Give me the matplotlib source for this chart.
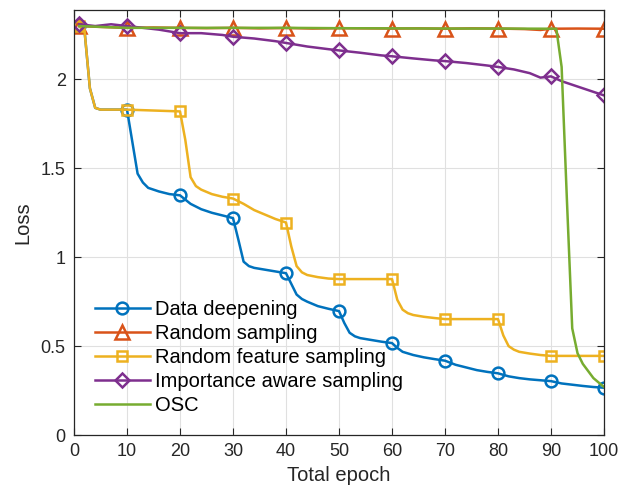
import matplotlib
matplotlib.use("Agg")
import matplotlib.pyplot as plt

# ---- data (loss vs total epoch) ----
dd_epoch = [1, 2, 3, 4, 5, 10, 11, 12, 13, 14, 16, 18, 20, 22, 24, 26, 28, 30,
            31, 32, 33, 34, 36, 38, 40, 41, 42, 43, 44, 46, 48, 50,
            51, 52, 53, 54, 56, 58, 60, 61, 62, 64, 66, 68, 70,
            72, 74, 76, 78, 80, 82, 84, 86, 88, 90, 92, 94, 96, 98, 100]
dd_loss = [2.30, 2.27, 1.95, 1.84, 1.83, 1.83, 1.65, 1.47, 1.42, 1.39, 1.37, 1.355, 1.348,
           1.30, 1.27, 1.25, 1.235, 1.22,
           1.10, 0.975, 0.95, 0.94, 0.93, 0.92, 0.91, 0.85, 0.79, 0.765, 0.75, 0.725, 0.71, 0.697,
           0.63, 0.575, 0.555, 0.545, 0.535, 0.525, 0.517, 0.49, 0.468, 0.45, 0.437, 0.427, 0.418,
           0.395, 0.38, 0.365, 0.355, 0.347, 0.33, 0.32, 0.313, 0.308, 0.303,
           0.29, 0.283, 0.276, 0.27, 0.266]

rs_epoch = [1, 5, 10, 15, 20, 25, 30, 35, 40, 45, 50, 55, 60, 65, 70, 75, 80, 85, 88, 90, 95, 100]
rs_loss = [2.30, 2.295, 2.29, 2.292, 2.29, 2.288, 2.29, 2.287, 2.289, 2.286, 2.288, 2.287,
           2.286, 2.287, 2.285, 2.287, 2.286, 2.283, 2.278, 2.285, 2.286, 2.285]

rfs_epoch = [1, 2, 3, 4, 5, 10, 20, 21, 22, 23, 24, 26, 28, 30, 32, 34, 36, 38, 40,
             41, 42, 43, 44, 46, 48, 50, 60, 61, 62, 63, 64, 66, 68, 70, 80,
             81, 82, 83, 84, 86, 88, 90, 100]
rfs_loss = [2.30, 2.27, 1.95, 1.84, 1.83, 1.83, 1.82, 1.66, 1.45, 1.40, 1.38, 1.355, 1.34, 1.33,
            1.30, 1.265, 1.24, 1.215, 1.195,
            1.06, 0.95, 0.915, 0.90, 0.888, 0.88, 0.877, 0.877, 0.76, 0.705, 0.685, 0.675, 0.665,
            0.658, 0.652, 0.652, 0.56, 0.50, 0.48, 0.468, 0.458, 0.45, 0.445, 0.445]

ias_epoch = [1, 4, 7, 10, 13, 16, 20, 24, 28, 30, 34, 38, 40, 44, 48, 50, 54, 58, 60,
             64, 68, 70, 74, 78, 80, 83, 86, 88, 90, 92, 96, 100]
ias_loss = [2.31, 2.30, 2.31, 2.30, 2.29, 2.28, 2.26, 2.26, 2.25, 2.24, 2.23, 2.215, 2.205,
            2.185, 2.17, 2.163, 2.15, 2.135, 2.13, 2.118, 2.107, 2.103, 2.092, 2.078, 2.07,
            2.056, 2.035, 2.01, 2.017, 1.99, 1.95, 1.91]

osc_epoch = [1, 10, 20, 30, 40, 50, 60, 70, 80, 90, 91, 92, 93, 94, 95, 96, 97, 98, 99, 100]
osc_loss = [2.30, 2.29, 2.29, 2.29, 2.29, 2.288, 2.287, 2.286, 2.286, 2.285, 2.285, 2.07, 1.32,
            0.60, 0.46, 0.40, 0.36, 0.32, 0.295, 0.27]

x_ticks = [0, 10, 20, 30, 40, 50, 60, 70, 80, 90, 100]
y_ticks = [0, 0.5, 1, 1.5, 2]
y_tick_labels = ["0", "0.5", "1", "1.5", "2"]

plt.rcParams["font.family"] = ["Liberation Sans", "DejaVu Sans"]
dark = "#262626"


def marker_idx(epochs):
    # markers sit at epoch 1 and every tenth epoch
    return [i for i, e in enumerate(epochs) if e == 1 or e % 10 == 0]


fig = plt.figure(figsize=(6.26, 4.93), dpi=100)
ax = fig.add_axes([0.1182, 0.1176, 0.8467, 0.862])

lw = 1.8
mew = 1.8
ax.plot(dd_epoch, dd_loss, color="#0072BD", lw=lw, marker="o", markersize=8.5,
        markerfacecolor="none", markeredgewidth=mew, markevery=marker_idx(dd_epoch),
        label="Data deepening")
ax.plot(rs_epoch, rs_loss, color="#D95319", lw=lw, marker="^", markersize=9.5,
        markerfacecolor="none", markeredgewidth=mew, markevery=marker_idx(rs_epoch),
        label="Random sampling")
ax.plot(rfs_epoch, rfs_loss, color="#EDB120", lw=lw, marker="s", markersize=7,
        markerfacecolor="none", markeredgewidth=mew, markevery=marker_idx(rfs_epoch),
        label="Random feature sampling")
ax.plot(ias_epoch, ias_loss, color="#7E2F8E", lw=lw, marker="D", markersize=7.5,
        markerfacecolor="none", markeredgewidth=mew, markevery=marker_idx(ias_epoch),
        label="Importance aware sampling")
ax.plot(osc_epoch, osc_loss, color="#77AC30", lw=lw, label="OSC")

ax.set_xlim(0, 100)
ax.set_ylim(0, 2.39)
ax.set_xticks(x_ticks)
ax.set_yticks(y_ticks)
ax.set_yticklabels(y_tick_labels)
ax.tick_params(direction="in", length=5, width=0.8, colors=dark, labelsize=13,
               top=True, right=True, pad=6)
ax.grid(True, color="#e0e0e0", lw=0.8)
ax.set_axisbelow(True)
for s in ax.spines.values():
    s.set_color(dark)
    s.set_linewidth(0.9)

ax.set_xlabel("Total epoch", fontsize=14.5, color=dark, labelpad=4)
ax.set_ylabel("Loss", fontsize=14.5, color=dark, labelpad=6)

ax.legend(loc="upper left", bbox_to_anchor=(0.04, 0.318), frameon=False,
          fontsize=14.5, handlelength=2.7, handletextpad=0.25, labelspacing=0.25,
          borderpad=0, borderaxespad=0)

fig.savefig("out.png", dpi=100)
